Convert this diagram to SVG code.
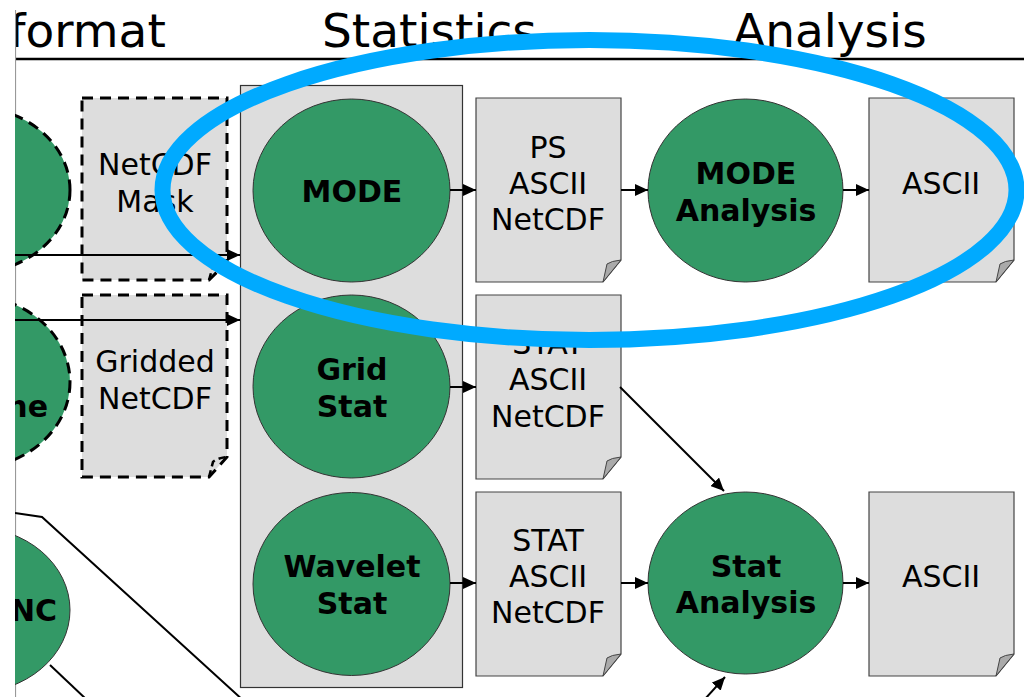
<svg xmlns="http://www.w3.org/2000/svg" xmlns:xlink="http://www.w3.org/1999/xlink" width="1024" height="697" viewBox="0 0 1024 697">
<style>
.hdr{font-family:"DejaVu Sans",Verdana,sans-serif;font-size:47px;fill:#000}
.proc{fill:#339966;stroke:#333;stroke-width:1}
.dproc{fill:#339966;stroke:#000;stroke-width:3;stroke-dasharray:11 7}
.ptxt{font-family:"DejaVu Sans",Verdana,sans-serif;font-size:30px;font-weight:bold;text-anchor:middle;fill:#000}
.dtxt{font-family:"DejaVu Sans",Verdana,sans-serif;font-size:30px;text-anchor:middle;fill:#000}
.doc{fill:#dddddd;stroke:#444;stroke-width:1.2}
.flap{fill:#aaaaaa;stroke:#444;stroke-width:1}
.ddoc{fill:#dddddd;stroke:#000;stroke-width:3;stroke-dasharray:11 7}
.dflap{fill:none;stroke:#000;stroke-width:2.5;stroke-dasharray:7 4}
.conn{fill:none;stroke:#000;stroke-width:2}
.arr{marker-end:url(#ah)}
</style>
<defs>
<marker id="ah" markerUnits="userSpaceOnUse" markerWidth="14" markerHeight="12" refX="13" refY="6" orient="auto"><path d="M0,0 L13,6 L0,12 Z" fill="#000"/></marker>
<path id="docshape" d="M0,0 H145 V162 L127,184 H0 Z"/>
<path id="flapshape" d="M127,184 L131,166 Q135,163 145,162 Z"/>
<clipPath id="clip"><rect x="15" y="0" width="1009" height="697"/></clipPath>
</defs>
<rect width="1024" height="697" fill="#fff"/>
<g clip-path="url(#clip)">
<g id="header">
<text class="hdr" x="9" y="47">format</text>
<text class="hdr" x="322" y="47">Statistics</text>
<text class="hdr" x="733" y="47">Analysis</text>
<line x1="15" y1="59" x2="1024" y2="59" stroke="#000" stroke-width="2.5"/>
</g>
<line x1="15.5" y1="10" x2="15.5" y2="697" stroke="#999" stroke-width="1.2"/>
<g id="left-circle-1"><ellipse class="dproc" cx="-28" cy="190" rx="98" ry="83"/></g>
<g id="left-circle-2"><ellipse class="dproc" cx="-28" cy="382" rx="98" ry="86"/><text class="ptxt" style="text-anchor:end" x="48" y="417">ne</text></g>
<g id="left-circle-3"><ellipse class="proc" cx="-28" cy="610" rx="98" ry="83"/><text class="ptxt" style="text-anchor:end" x="57" y="621">NC</text></g>
<g id="netcdf-mask">
<path class="ddoc" d="M82,98 H227 V262 L209,280 H82 Z"/>
<path class="dflap" d="M209,280 L213,266 Q217,262 227,262"/>
<text class="dtxt" x="155" y="175">NetCDF</text><text class="dtxt" x="155" y="212">Mask</text>
</g>
<g id="gridded-netcdf">
<path class="ddoc" d="M82,295 H227 V457 L209,477 H82 Z"/>
<path class="dflap" d="M209,477 L213,462 Q217,458 227,457"/>
<text class="dtxt" x="155" y="372">Gridded</text><text class="dtxt" x="155" y="409">NetCDF</text>
</g>
<g id="stats-group"><rect x="240.5" y="85.5" width="222" height="602" fill="#dddddd" stroke="#333" stroke-width="1.2"/></g>
<g id="mode"><ellipse class="proc" cx="351.5" cy="190.5" rx="98.5" ry="91.5"/><text class="ptxt" x="352" y="202">MODE</text></g>
<g id="grid-stat"><ellipse class="proc" cx="351.5" cy="386.5" rx="98.5" ry="91.5"/><text class="ptxt" x="352" y="380">Grid</text><text class="ptxt" x="352" y="417">Stat</text></g>
<g id="wavelet-stat"><ellipse class="proc" cx="351.5" cy="584" rx="98.5" ry="91.5"/><text class="ptxt" x="352" y="577">Wavelet</text><text class="ptxt" x="352" y="614">Stat</text></g>
<g id="doc-mode">
<use href="#docshape" xlink:href="#docshape" class="doc" x="476" y="98"/><use href="#flapshape" xlink:href="#flapshape" class="flap" x="476" y="98"/>
<text class="dtxt" x="548" y="158">PS</text><text class="dtxt" x="548" y="194">ASCII</text><text class="dtxt" x="548" y="230">NetCDF</text>
</g>
<g id="doc-grid">
<use href="#docshape" xlink:href="#docshape" class="doc" x="476" y="295"/><use href="#flapshape" xlink:href="#flapshape" class="flap" x="476" y="295"/>
<text class="dtxt" x="548" y="354">STAT</text><text class="dtxt" x="548" y="390">ASCII</text><text class="dtxt" x="548" y="427">NetCDF</text>
</g>
<g id="doc-wavelet">
<use href="#docshape" xlink:href="#docshape" class="doc" x="476" y="492"/><use href="#flapshape" xlink:href="#flapshape" class="flap" x="476" y="492"/>
<text class="dtxt" x="548" y="551">STAT</text><text class="dtxt" x="548" y="587">ASCII</text><text class="dtxt" x="548" y="623">NetCDF</text>
</g>
<g id="mode-analysis"><ellipse class="proc" cx="745.5" cy="190.5" rx="97.5" ry="91.5"/><text class="ptxt" x="746" y="184">MODE</text><text class="ptxt" x="746" y="221">Analysis</text></g>
<g id="stat-analysis"><ellipse class="proc" cx="745.5" cy="583" rx="97.5" ry="91"/><text class="ptxt" x="746" y="577">Stat</text><text class="ptxt" x="746" y="613">Analysis</text></g>
<g id="ascii-mode">
<use href="#docshape" xlink:href="#docshape" class="doc" x="869" y="98"/><use href="#flapshape" xlink:href="#flapshape" class="flap" x="869" y="98"/>
<text class="dtxt" x="941" y="194">ASCII</text>
</g>
<g id="ascii-stat">
<use href="#docshape" xlink:href="#docshape" class="doc" x="869" y="492"/><use href="#flapshape" xlink:href="#flapshape" class="flap" x="869" y="492"/>
<text class="dtxt" x="941" y="587">ASCII</text>
</g>
<g id="connectors">
<line class="conn arr" x1="15" y1="255" x2="240" y2="255"/>
<line class="conn arr" x1="15" y1="320" x2="240" y2="320"/>
<polyline class="conn" points="15,513 42,517 245,702"/>
<line class="conn" x1="50" y1="665" x2="87" y2="700"/>
<line class="conn arr" x1="450" y1="190" x2="476" y2="190"/>
<line class="conn arr" x1="621" y1="190" x2="648" y2="190"/>
<line class="conn arr" x1="843" y1="190" x2="869" y2="190"/>
<line class="conn arr" x1="450" y1="387" x2="476" y2="387"/>
<line class="conn arr" x1="620" y1="387" x2="724" y2="491"/>
<line class="conn arr" x1="450" y1="583" x2="476" y2="583"/>
<line class="conn arr" x1="621" y1="583" x2="648" y2="583"/>
<line class="conn arr" x1="843" y1="583" x2="869" y2="583"/>
<line class="conn arr" x1="705" y1="699" x2="725" y2="677"/>
</g>
<g id="highlight"><ellipse cx="589.5" cy="190" rx="427" ry="150" fill="none" stroke="#00aaff" stroke-width="16"/></g>
</g>
</svg>
